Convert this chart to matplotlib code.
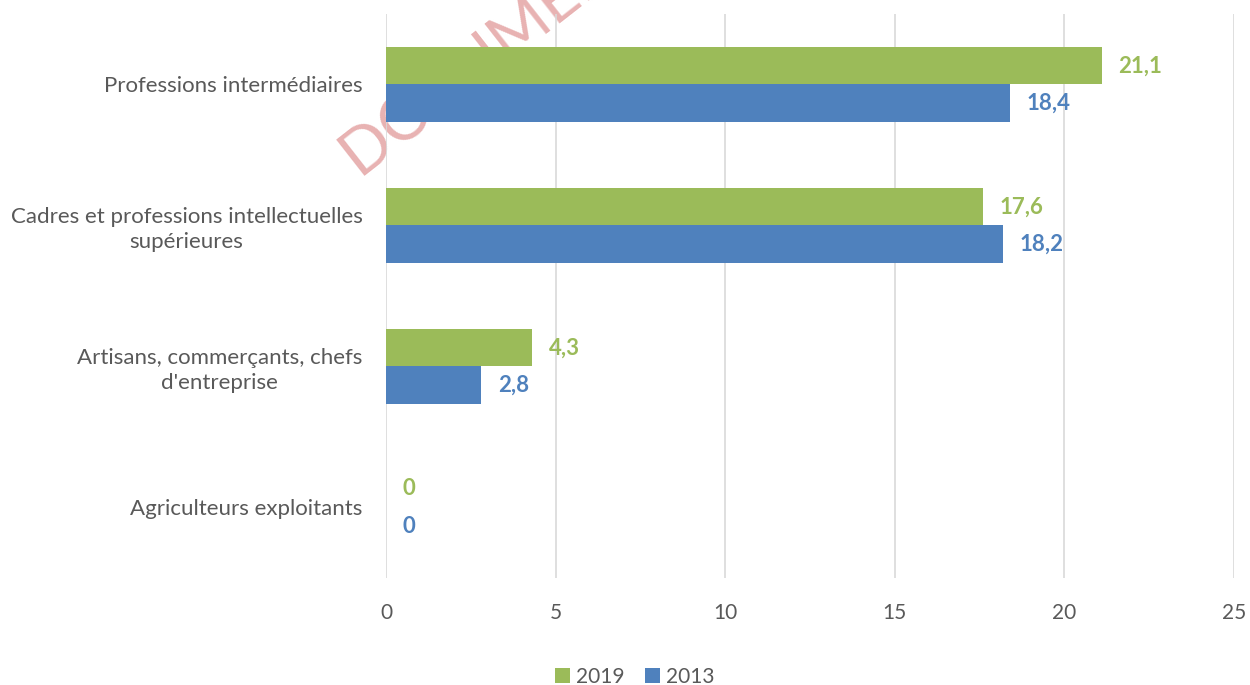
import matplotlib
matplotlib.use('Agg')
import matplotlib.pyplot as plt
import numpy as np

categories = ['Agriculteurs exploitants',
              "Artisans, commerçants, chefs\nd'entreprise",
              'Cadres et professions intellectuelles\nsupérieures',
              'Professions intermédiaires']
v2019 = [0, 4.3, 17.6, 21.1]
v2013 = [0, 2.8, 18.2, 18.4]
xticks = [0, 5, 10, 15, 20, 25]

vert = '#9BBB59'
bleu = '#4F81BD'
gris = '#595959'
plt.rcParams['font.family'] = ['Lato', 'DejaVu Sans']

fig = plt.figure(figsize=(12.5, 6.85), dpi=100)
ax = fig.add_axes([0.3088, 0.1562, 0.6784, 0.8234])
ax.set_facecolor('none')

# filigrane
fig.text(0.287, 0.742, 'DOCUMENT', rotation=38, rotation_mode='anchor',
         ha='left', va='baseline', fontsize=46, color='#E8B2B2', zorder=-1)

y = np.arange(len(categories))
h = 0.263
b1 = ax.barh(y + h / 2, v2019, height=h, color=vert, label='2019', zorder=2)
b2 = ax.barh(y - h / 2, v2013, height=h, color=bleu, label='2013', zorder=2)

def fmt(v):
    return ('%g' % v).replace('.', ',')

for yy, v in zip(y + h / 2, v2019):
    ax.annotate(fmt(v), (v, yy), xytext=(12, 0), textcoords='offset points',
                ha='left', va='center', color=vert, fontsize=16, fontweight='bold')
for yy, v in zip(y - h / 2, v2013):
    ax.annotate(fmt(v), (v, yy), xytext=(12, 0), textcoords='offset points',
                ha='left', va='center', color=bleu, fontsize=16, fontweight='bold')

ax.set_xlim(0, 25)
ax.set_ylim(-0.5, 3.5)
ax.set_xticks(xticks)
ax.set_yticks(y)
ax.set_yticklabels(categories, ha='right', multialignment='center', linespacing=1.3)
ax.tick_params(axis='y', length=0, pad=17, labelsize=16, labelcolor=gris)
ax.tick_params(axis='x', length=0, pad=18, labelsize=15, labelcolor=gris)
ax.grid(axis='x', color='#D9D9D9', linewidth=1.2, zorder=0)
ax.set_axisbelow(True)
for s in ax.spines.values():
    s.set_visible(False)

leg = fig.legend(handles=[b1, b2], loc='center', bbox_to_anchor=(0.508, 0.012),
                 ncol=2, frameon=False, fontsize=15, handlelength=0.7,
                 handleheight=0.7, handletextpad=0.3, columnspacing=1.0)
for t in leg.get_texts():
    t.set_color(gris)

plt.savefig('out.png')
